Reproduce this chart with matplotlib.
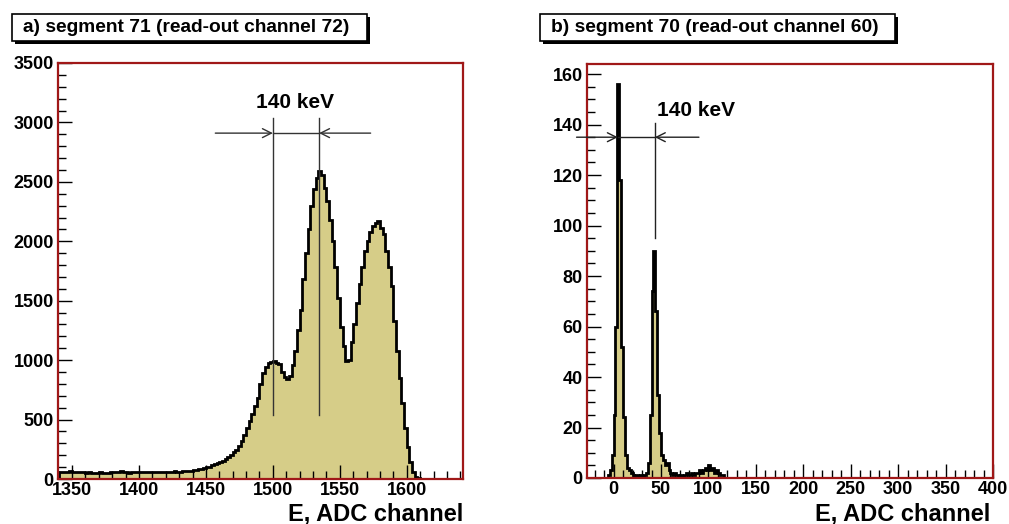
import numpy as np
import matplotlib
matplotlib.use("Agg")
import matplotlib.pyplot as plt
from matplotlib.patches import Rectangle
from matplotlib.ticker import MultipleLocator

plt.rcParams['font.family'] = ['Liberation Sans', 'DejaVu Sans']

W, H = 1009, 524

# --- panel a: segment 71, bins of 2 ADC channels starting at 1340 ---
edges_a_start, bin_a = 1340, 2
counts_a = [
    55, 60, 58, 62, 65, 60, 58, 55, 57, 60,
    52, 55, 50, 48, 52, 55, 50, 47, 52, 58,
    62, 55, 60, 65, 58, 55, 52, 58, 62, 60,
    56, 60, 55, 58, 62, 57, 55, 60, 58, 56,
    55, 58, 62, 65, 60, 62, 66, 68, 70, 65,
    72, 75, 80, 85, 90, 100, 105, 115, 125, 135,
    140, 150, 170, 185, 200, 225, 245, 280, 320, 370,
    430, 490, 550, 610, 680, 800, 890, 940, 975, 985,
    990, 980, 970, 900, 860, 840, 870, 960, 1080, 1250,
    1420, 1680, 1900, 2100, 2300, 2440, 2530, 2590, 2560, 2450,
    2340, 2180, 2000, 1780, 1520, 1280, 1120, 990, 1000, 1150,
    1300, 1480, 1640, 1780, 1920, 2000, 2080, 2130, 2150, 2170,
    2110, 2060, 1920, 1780, 1620, 1330, 1080, 850, 640, 430,
    270, 140, 60, 20, 5,
]
edges_a = edges_a_start + bin_a * np.arange(len(counts_a) + 1)

# --- panel b: segment 70, bins of 2 ADC channels starting at -28 ---
edges_b_start, bin_b = -28, 2
counts_b = (
    [0] * 10 +                                   # -28 .. -10
    [0, 1, 3, 9, 25, 60, 156, 118, 52, 24,      # -8 .. 10
     9, 4, 3, 2, 1, 0, 1, 0, 1, 0,              # 12 .. 30
     1, 2, 6, 25, 74, 90, 66, 33, 18, 9,        # 32 .. 50
     7, 5, 6, 3, 2, 1, 2, 1, 0, 1,              # 52 .. 70
     0, 1, 2, 1, 1, 2, 1, 2, 2, 3,              # 72 .. 90
     2, 3, 4, 3, 5, 3, 4, 2, 3, 2,              # 92 .. 110
     1, 1] +                                    # 112 .. 114
    [0] * 142                                    # 116 .. 398
)
edges_b = edges_b_start + bin_b * np.arange(len(counts_b) + 1)

title_a = "a) segment 71 (read-out channel 72)"
title_b = "b) segment 70 (read-out channel 60)"
xlabel = "E, ADC channel"
peak_label = "140 keV"

fill_col = '#d6cd88'
frame_col = '#a01818'


def px_axes(fig, x0, y0, x1, y1):
    return fig.add_axes([x0 / W, 1 - y1 / H, (x1 - x0) / W, (y1 - y0) / H])


def style_axes(ax):
    for s in ax.spines.values():
        s.set_color(frame_col)
        s.set_linewidth(1.6)
    ax.tick_params(which='both', direction='in', top=False, right=False,
                   color='black', width=1.0, labelsize=13)
    ax.tick_params(which='major', length=10)
    ax.tick_params(which='minor', length=5.5)
    ax.tick_params(axis='x', pad=2)
    ax.tick_params(axis='y', pad=3)
    for lab in ax.get_xticklabels() + ax.get_yticklabels():
        lab.set_fontweight('bold')


def title_box(fig, x0, y0, x1, y1, text):
    sh = 2.5
    fig.patches.append(Rectangle(((x0 + sh) / W, 1 - (y1 + sh) / H), (x1 - x0) / W, (y1 - y0) / H,
                                 transform=fig.transFigure, facecolor='black', edgecolor='black', lw=0))
    fig.patches.append(Rectangle((x0 / W, 1 - y1 / H), (x1 - x0) / W, (y1 - y0) / H,
                                 transform=fig.transFigure, facecolor='white', edgecolor='black', lw=1.2))
    fig.text((x0 + 11) / W, 1 - (y0 + y1) / 2 / H, text, ha='left', va='center',
             fontsize=13.8, fontweight='bold')


fig = plt.figure(figsize=(W / 100, H / 100), dpi=100)

# ---------------- panel a ----------------
ax1 = px_axes(fig, 58, 63, 463, 479)
ax1.stairs(counts_a, edges_a, fill=True, color=fill_col, lw=0)
ax1.stairs(counts_a, edges_a, color='black', lw=2.0)
ax1.set_xlim(1339.5, 1642)
ax1.set_ylim(0, 3500)
ax1.xaxis.set_major_locator(MultipleLocator(50))
ax1.xaxis.set_minor_locator(MultipleLocator(10))
ax1.yaxis.set_major_locator(MultipleLocator(500))
ax1.yaxis.set_minor_locator(MultipleLocator(100))
style_axes(ax1)

ya = 2910
for xv in (1500, 1534.5):
    ax1.plot([xv, xv], [540, 3040], color='#333333', lw=1.0)
ax1.plot([1500, 1534.5], [ya, ya], color='#333333', lw=1.0)
ax1.annotate('', xy=(1500, ya), xytext=(1457, ya),
             arrowprops=dict(arrowstyle='->', lw=1.0, color='#333333', mutation_scale=16,
                             shrinkA=0, shrinkB=0))
ax1.annotate('', xy=(1534.5, ya), xytext=(1573, ya),
             arrowprops=dict(arrowstyle='->', lw=1.0, color='#333333', mutation_scale=16,
                             shrinkA=0, shrinkB=0))
ax1.text(1516.5, 3165, peak_label, ha='center', va='center', fontsize=15, fontweight='bold')

# ---------------- panel b ----------------
ax2 = px_axes(fig, 587, 64, 993, 478)
ax2.stairs(counts_b, edges_b, fill=True, color=fill_col, lw=0)
ax2.stairs(counts_b, edges_b, color='black', lw=2.0)
ax2.set_xlim(-28, 400)
ax2.set_ylim(0, 164)
ax2.xaxis.set_major_locator(MultipleLocator(50))
ax2.xaxis.set_minor_locator(MultipleLocator(10))
ax2.yaxis.set_major_locator(MultipleLocator(20))
ax2.yaxis.set_minor_locator(MultipleLocator(5))
style_axes(ax2)

yb = 135
ax2.plot([43.5, 43.5], [95, 140.5], color='#222222', lw=1.0)
ax2.plot([4.5, 43.5], [yb, yb], color='#222222', lw=1.0)
ax2.annotate('', xy=(4.5, yb), xytext=(-39, yb),
             arrowprops=dict(arrowstyle='->', lw=1.0, color='#222222', mutation_scale=16,
                             shrinkA=0, shrinkB=0))
ax2.annotate('', xy=(43.5, yb), xytext=(90, yb),
             arrowprops=dict(arrowstyle='->', lw=1.0, color='#222222', mutation_scale=16,
                             shrinkA=0, shrinkB=0))
ax2.text(46, 145.5, peak_label, ha='left', va='center', fontsize=15, fontweight='bold')

# titles and axis labels
title_box(fig, 12, 14, 367, 41, title_a)
title_box(fig, 540, 14, 895, 41, title_b)
fig.text(463 / W, 1 - 514 / H, xlabel, ha='right', va='center', fontsize=17, fontweight='bold')
fig.text(990 / W, 1 - 514 / H, xlabel, ha='right', va='center', fontsize=17, fontweight='bold')

fig.savefig('out.png', dpi=100)
